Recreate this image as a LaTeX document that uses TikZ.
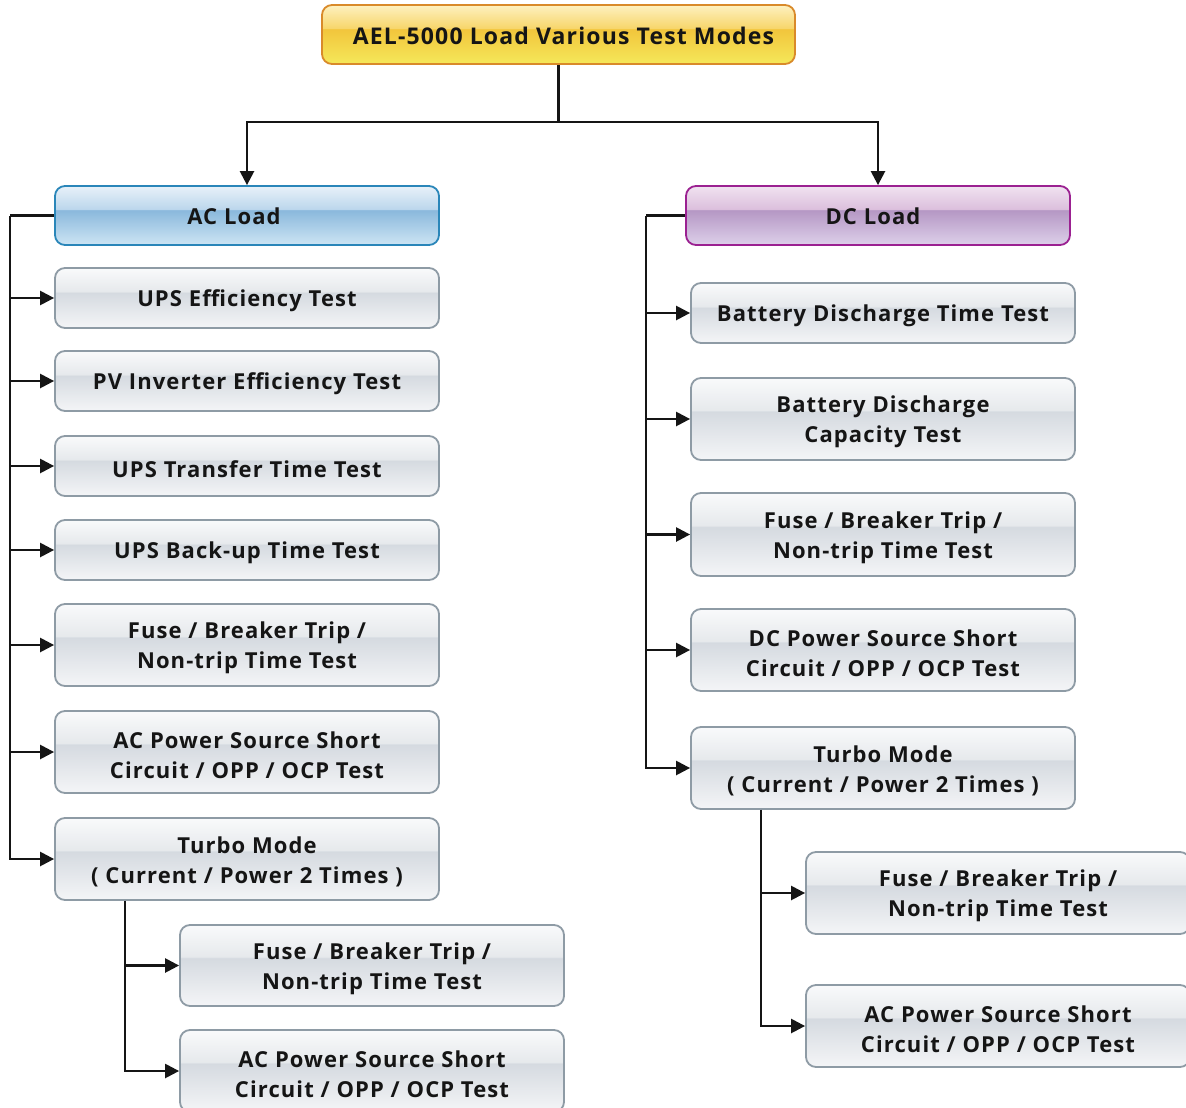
\documentclass[tikz,border=0pt]{standalone}
\usepackage{fontspec}
\setmainfont{Open Sans}
\newfontfamily\boxfont{Open Sans}[LetterSpace=5]
\usetikzlibrary{arrows.meta}
\definecolor{gB}{HTML}{F4F5F7}
\definecolor{gD}{HTML}{D5DAE0}
\definecolor{gU}{HTML}{E6E9EC}
\definecolor{gT}{HTML}{F9FAFB}
\definecolor{grayedge}{HTML}{8E9BA5}
\definecolor{bB}{HTML}{CDE5F4}
\definecolor{bD}{HTML}{8AB8DC}
\definecolor{bU}{HTML}{BCD7EC}
\definecolor{bT}{HTML}{E8F1F9}
\definecolor{blueedge}{HTML}{2A86B9}
\definecolor{pB}{HTML}{DDD0EA}
\definecolor{pD}{HTML}{B597C4}
\definecolor{pU}{HTML}{DCC0DD}
\definecolor{pT}{HTML}{F0E2F0}
\definecolor{purpleedge}{HTML}{9B2191}
\definecolor{yB}{HTML}{F5E85A}
\definecolor{yD}{HTML}{F2C53C}
\definecolor{yU}{HTML}{F7D66C}
\definecolor{yT}{HTML}{FEF1C0}
\definecolor{orangeedge}{HTML}{D98A2A}
\definecolor{ink}{HTML}{151515}
\pgfdeclareverticalshading{glossgray}{100bp}{color(0bp)=(gB); color(25bp)=(gB); color(54.5bp)=(gD); color(55.5bp)=(gU); color(75bp)=(gT); color(100bp)=(gT)}
\pgfdeclareverticalshading{glossblue}{100bp}{color(0bp)=(bB); color(25bp)=(bB); color(54.5bp)=(bD); color(55.5bp)=(bU); color(75bp)=(bT); color(100bp)=(bT)}
\pgfdeclareverticalshading{glosspurple}{100bp}{color(0bp)=(pB); color(25bp)=(pB); color(54.5bp)=(pD); color(55.5bp)=(pU); color(75bp)=(pT); color(100bp)=(pT)}
\pgfdeclareverticalshading{glossyellow}{100bp}{color(0bp)=(yB); color(25bp)=(yB); color(54.5bp)=(yD); color(55.5bp)=(yU); color(75bp)=(yT); color(100bp)=(yT)}
\tikzset{
  box/.style={draw, line width=1.8pt, rounded corners=10pt, minimum width=384pt, inner sep=0pt},
  boxtext/.style={align=center, inner sep=0pt, text=ink,
    font=\boxfont\bfseries\fontsize{22}{30}\selectfont},
  graybox/.style={box, draw=grayedge, shading=glossgray},
  single/.style={minimum height=60pt},
  double/.style={minimum height=82pt},
  conn/.style={line width=2.4pt, draw=ink},
  arr/.style={conn, -{Triangle[length=14pt,width=14pt]}},
}
% box with separate, slightly lowered text
\newcommand\tb[4]{\node[#1] (#2) at (#3) {};
  \node[boxtext] (#2-t) at ([yshift=-3pt]#2.center) {#4};}
\begin{document}
\begin{tikzpicture}[x=1pt,y=-1pt]
\useasboundingbox (0,0) rectangle (1186,1108);
\clip (0,0) rectangle (1186,1108);
\fill[white] (0,0) rectangle (1186,1108);
% top and load boxes
\node[box, draw=orangeedge, shading=glossyellow, minimum width=473pt, minimum height=59pt] (top) at (558.5,34.5) {};
\node[boxtext, font=\boxfont\bfseries\fontsize{23}{30}\selectfont] (top-t) at ([xshift=5pt,yshift=-1pt]top.center) {AEL-5000 Load Various Test Modes};
\node[box, draw=blueedge, shading=glossblue, minimum height=59pt] (ac) at (247,215.5) {};
\node[boxtext] (ac-t) at ([xshift=-13pt,yshift=-1pt]ac.center) {AC Load};
\node[box, draw=purpleedge, shading=glosspurple, minimum height=59pt] (dc) at (878,215.5) {};
\node[boxtext] (dc-t) at ([xshift=-5pt,yshift=-1pt]dc.center) {DC Load};
% AC items
\tb{graybox, single}{a1}{247,298}{UPS Efficiency Test}
\tb{graybox, single}{a2}{247,381}{PV Inverter Efficiency Test}
\tb{graybox, single}{a3}{247,466}{UPS Transfer Time Test}
\tb{graybox, single}{a4}{247,550}{UPS Back-up Time Test}
\tb{graybox, double}{a5}{247,645}{Fuse / Breaker Trip /\\Non-trip Time Test}
\tb{graybox, double}{a6}{247,752}{AC Power Source Short\\Circuit / OPP / OCP Test}
\tb{graybox, double}{a7}{247,859}{Turbo Mode\\( Current / Power 2 Times )}
\tb{graybox, double, minimum height=81pt}{s1}{372,965.5}{Fuse / Breaker Trip /\\Non-trip Time Test}
\tb{graybox, double}{s2}{372,1071}{AC Power Source Short\\Circuit / OPP / OCP Test}
% DC items
\tb{graybox, single}{d1}{883,313}{Battery Discharge Time Test}
\tb{graybox, double}{d2}{883,419}{Battery Discharge\\Capacity Test}
\tb{graybox, double, minimum height=83pt}{d3}{883,534.5}{Fuse / Breaker Trip /\\Non-trip Time Test}
\tb{graybox, double}{d4}{883,650}{DC Power Source Short\\Circuit / OPP / OCP Test}
\tb{graybox, double}{d5}{883,768}{Turbo Mode\\( Current / Power 2 Times )}
\tb{graybox, double}{e1}{998,893}{Fuse / Breaker Trip /\\Non-trip Time Test}
\tb{graybox, double}{e2}{998,1026}{AC Power Source Short\\Circuit / OPP / OCP Test}
% connectors from top
\coordinate (split) at ([yshift=-57pt]top.south);
\draw[conn] (top.south) -- (split);
\draw[arr] (split) -| (ac.north);
\draw[arr] (split) -| (dc.north);
% AC trunk
\coordinate (acT) at ([xshift=-44pt]ac.west);
\draw[conn] (ac.west) -- (acT);
\foreach \n in {a1,a2,a3,a4,a5,a6,a7} \draw[arr] (acT) |- (\n.west);
% AC turbo trunk
\coordinate (a7T) at ([xshift=71pt]a7.south west);
\foreach \n in {s1,s2} \draw[arr] (a7T) |- (\n.west);
% DC trunk
\coordinate (dcT) at ([xshift=-39pt]dc.west);
\draw[conn] (dc.west) -- (dcT);
\foreach \n in {d1,d2,d3,d4,d5} \draw[arr] (dcT) |- (\n.west);
% DC turbo trunk
\coordinate (d5T) at ([xshift=71pt]d5.south west);
\foreach \n in {e1,e2} \draw[arr] (d5T) |- (\n.west);
\end{tikzpicture}
\end{document}
